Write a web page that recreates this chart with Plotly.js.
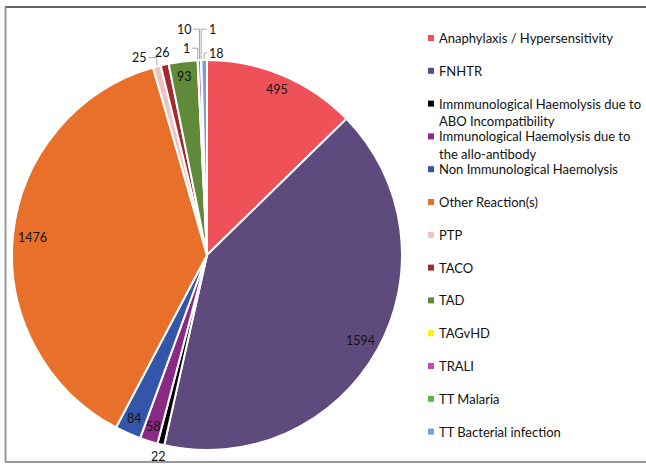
<!DOCTYPE html>
<html>
<head>
<meta charset="utf-8">
<script src="https://cdn.plot.ly/plotly-3.0.1.min.js"></script>
<style>html,body{margin:0;padding:0;background:#fff;}#chart{width:646px;height:464px;}</style>
</head>
<body>
<div id="chart"></div>
<script>
// ---- data ----
const categories = [
  "Anaphylaxis / Hypersensitivity",
  "FNHTR",
  "Immmunological Haemolysis due to<br>ABO Incompatibility",
  "Immunological Haemolysis due to<br>the allo-antibody",
  "Non Immunological Haemolysis",
  "Other Reaction(s)",
  "PTP",
  "TACO",
  "TAD",
  "TAGvHD",
  "TRALI",
  "TT Malaria",
  "TT Bacterial infection"
];
const values = [495, 1594, 22, 58, 84, 1476, 25, 26, 93, 1, 10, 1, 18];
const colors = ["#EF5159", "#5F4A7E", "#000000", "#8B2A85", "#3456A8", "#E8702A",
                "#F2C2C2", "#A12A2E", "#5F8A3A", "#FFF100", "#C84BB2", "#5BB848", "#74A0DA"];

// ---- layout geometry (styles, not data) ----
const W = 646, H = 464;
const CX = 207, CY = 255, R = 195;
const FONT = "Lato, 'Open Sans', sans-serif";
// outside labels: pixel offset of label from slice edge point, and whether a leader line is drawn
const outside = {
  2:  {dx: -2,  dy: 12,  line: false},
  6:  {dx: -17, dy: -9,  line: true},
  7:  {dx: -2,  dy: -12, line: false},
  9:  {dx: -11, dy: -12, line: true},
  10: {dx: -15, dy: -31, line: true},
  11: {dx: 11,  dy: -31, line: true},
  12: {dx: 12,  dy: -7,  line: true}
};

const px2x = p => p / W;
const py2y = p => 1 - p / H;

const total = values.reduce((a, b) => a + b, 0);
const annotations = [];
const shapes = [];
let cum = 0;
values.forEach((v, i) => {
  const mid = (cum + v / 2) / total * 2 * Math.PI;
  cum += v;
  const s = Math.sin(mid), c = Math.cos(mid);
  if (outside[i]) {
    const o = outside[i];
    const ex = CX + R * s, ey = CY - R * c;
    const lx = ex + o.dx, ly = ey + o.dy;
    annotations.push({
      x: px2x(lx), y: py2y(ly), xref: "paper", yref: "paper",
      text: String(v), showarrow: false, xanchor: "center", yanchor: "middle",
      font: {family: FONT, size: 12.5, color: "#111"}
    });
    if (o.line) {
      const hw = String(v).length * 3.4 + 2;
      const tx = o.dx < 0 ? lx + hw : lx - hw;
      shapes.push({
        type: "path", xref: "paper", yref: "paper",
        path: "M " + px2x(ex) + "," + py2y(ey - 1) + " L " + px2x(ex) + "," + py2y(ly) + " L " + px2x(tx) + "," + py2y(ly),
        line: {color: "#A6A6A6", width: 1}
      });
    }
  } else {
    const r = v > 1000 ? 0.9 * R : 0.92 * R;
    annotations.push({
      x: px2x(CX + r * s), y: py2y(CY - r * c), xref: "paper", yref: "paper",
      text: String(v), showarrow: false, xanchor: "center", yanchor: "middle",
      font: {family: FONT, size: 12.5, color: "#111"}
    });
  }
});

// custom legend
const LX = 438, LY0 = 38, LDY = 32.8, LLINE = 17.5;
categories.forEach((cat, i) => {
  const yc = LY0 + LDY * i;
  cat.split("<br>").forEach((line, k) => {
    annotations.push({
      x: px2x(LX), y: py2y(yc + LLINE * k), xref: "paper", yref: "paper",
      text: line, showarrow: false, xanchor: "left", yanchor: "middle", align: "left",
      borderpad: 0,
      font: {family: FONT, size: 13, color: "#111"}
    });
  });
  shapes.push({
    type: "rect", xref: "paper", yref: "paper",
    x0: px2x(428), x1: px2x(434), y0: py2y(yc - 3), y1: py2y(yc + 3),
    fillcolor: colors[i], line: {width: 0}
  });
});

// frame
shapes.push({type: "line", xref: "paper", yref: "paper", x0: px2x(5), x1: 1, y0: py2y(7), y1: py2y(7), line: {color: "#333", width: 1.5}});
shapes.push({type: "line", xref: "paper", yref: "paper", x0: px2x(5.5), x1: px2x(5.5), y0: py2y(7), y1: py2y(462), line: {color: "#999", width: 2}});
shapes.push({type: "line", xref: "paper", yref: "paper", x0: px2x(5), x1: 1, y0: py2y(462), y1: py2y(462), line: {color: "#999", width: 2}});

const trace = {
  type: "pie",
  labels: categories,
  values: values,
  sort: false,
  direction: "clockwise",
  rotation: 0,
  marker: {colors: colors, line: {color: "#ffffff", width: 2}},
  textinfo: "none",
  hoverinfo: "label+value",
  showlegend: false,
  domain: {x: [(CX - R) / W, (CX + R) / W], y: [1 - (CY + R) / H, 1 - (CY - R) / H]}
};

Plotly.newPlot("chart", [trace], {
  width: W, height: H,
  margin: {l: 0, r: 0, t: 0, b: 0},
  paper_bgcolor: "#ffffff",
  showlegend: false,
  annotations: annotations,
  shapes: shapes
}, {displayModeBar: false, staticPlot: true});
</script>
</body>
</html>
